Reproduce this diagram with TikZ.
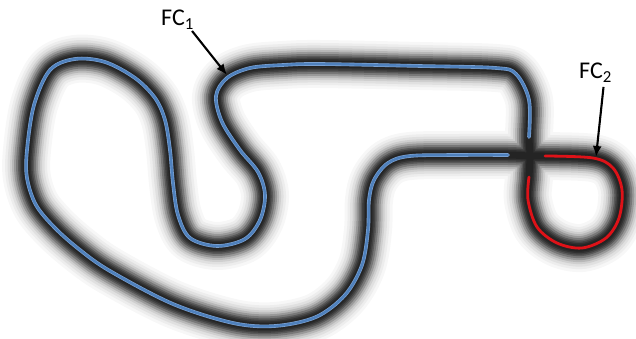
\documentclass[tikz,border=0pt]{standalone}
\usepackage{fontspec}
\setmainfont{Carlito}
\usepackage{xcolor}
\usepackage{tikz}
\usetikzlibrary{calc, positioning, arrows.meta}
\definecolor{trackblue}{RGB}{79,129,189}
\definecolor{trackhalo}{RGB}{128,165,212}
\definecolor{loopred}{RGB}{222,18,24}
\tikzset{
    lbl/.style={font=\fontsize{24}{28}\selectfont, inner sep=0pt},
    pointer/.style={-{Latex[length=11pt, width=9pt]}, line width=2.1pt, black},
    line/.style={line cap=round, line join=round}
}
% open part of the track (blue)
\newcommand{\bluepath}{plot[smooth, tension=0.55] coordinates {
    (529,137) (529,100) (516,74) (496,68) (420,66) (320,64) (283,65) (250,68)
    (227,78) (216,96) (222,122) (240,150) (258,172) (265,195) (260,220) (245,239)
    (217,246) (190,238) (178,215) (173,183) (170,150) (165,120) (155,98) (135,78)
    (105,62) (75,59) (50,70) (34,105) (27,150) (27,178) (36,205) (55,228)
    (80,250) (110,271) (173,304) (233,323) (275,326) (316,317) (345,295) (362,265)
    (368,230) (369,200) (374,180) (388,163) (410,156) (460,155) (508,155)}}
% the loop on the right (red)
\newcommand{\redpath}{plot[smooth, tension=0.55] coordinates {
    (545,156) (593,158) (613,168) (622,190) (619,218) (606,238) (582,248)
    (557,243) (537,227) (528,200) (529,177)}}
% whole closed track for the shadow
\newcommand{\trackloop}{plot[smooth cycle, tension=0.55] coordinates {
    (529,137) (529,100) (516,74) (496,68) (420,66) (320,64) (283,65) (250,68)
    (227,78) (216,96) (222,122) (240,150) (258,172) (265,195) (260,220) (245,239)
    (217,246) (190,238) (178,215) (173,183) (170,150) (165,120) (155,98) (135,78)
    (105,62) (75,59) (50,70) (34,105) (27,150) (27,178) (36,205) (55,228)
    (80,250) (110,271) (173,304) (233,323) (275,326) (316,317) (345,295) (362,265)
    (368,230) (369,200) (374,180) (388,163) (410,156) (460,155) (508,155)
    (530,156) (545,156) (593,158) (613,168) (622,190) (619,218) (606,238) (582,248)
    (557,243) (537,227) (528,200) (529,177) (530,156)}}

\begin{document}
\begin{tikzpicture}[x=1pt, y=-1pt]
    \useasboundingbox (0,0) rectangle (636,339);

    % Shadow
    \foreach \w/\s in {48/3, 42/7, 37/12, 32/19, 28/28, 24/40, 20/53, 16/65, 13/74, 10/81, 7/86}
        \draw[line, line width=\w pt, black!\s] \trackloop;

    % Track
    \draw[line, line width=3.6pt, trackhalo] \bluepath;
    \draw[line, line width=2.4pt, trackblue] \bluepath;
    \draw[line, line width=2.8pt, loopred] \redpath;

    % Labels
    \node[lbl, anchor=base west] (fcone) at (161,26) {FC\textsubscript{1}};
    \node[lbl, anchor=base west] (fctwo) at (579,79) {FC\textsubscript{2}};
    \coordinate (fconetip) at (227,75);
    \coordinate (fctwotip) at (596,157);
    \draw[pointer] ([xshift=-2pt, yshift=-1pt]fcone.south east) -- (fconetip);
    \draw[pointer] ([xshift=8pt, yshift=-4pt]fctwo.south) -- (fctwotip);
\end{tikzpicture}
\end{document}
